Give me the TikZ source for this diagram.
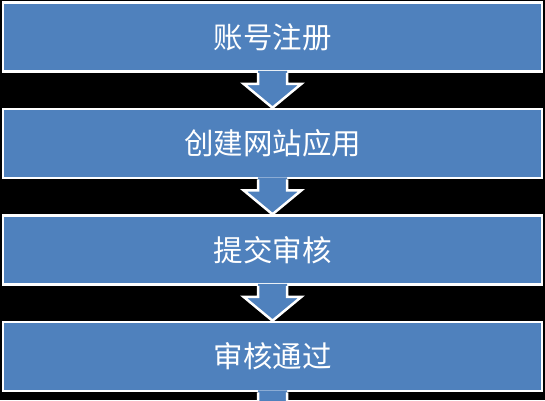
\documentclass[tikz,border=0pt]{standalone}
\usepackage{fontspec}
\newfontfamily\cjk{Noto Sans CJK SC}
\usetikzlibrary{positioning}
\definecolor{boxblue}{HTML}{4F81BD}

\begin{document}
\begin{tikzpicture}[
    x=1pt, y=1pt,
    node distance=35pt,
    every node/.style={font=\cjk\fontsize{29.5}{33}\selectfont},
    stage/.style={draw=white, line width=2.5pt, fill=boxblue, text=white, minimum width=539pt, minimum height=69pt, inner sep=0pt},
    outline/.style={draw=white, line width=2.5pt, line join=miter}
]
\useasboundingbox (0,0) rectangle (545,-400);
\fill[black] (0,0) rectangle (545,-400);
\node[stage] (reg) at (272.5,-37) {账号注册};
\node[stage, below=of reg] (app) {创建网站应用};
\node[stage, below=of app] (sub) {提交审核};
\node[stage, below=of sub] (pass) {审核通过};
\coordinate[below=of pass] (tail);
% block arrows between the stages
\foreach \a/\b in {reg/app, app/sub, sub/pass, pass/tail} {
  \fill[boxblue] ([shift={(-14.5pt,2pt)}]\a.south) |- ([shift={(-29pt,-11pt)}]\a.south) -- (\b.north)
    -- ([shift={(29pt,-11pt)}]\a.south) -| ([shift={(14.5pt,2pt)}]\a.south) -- cycle;
  \draw[outline] ([shift={(-14.5pt,0pt)}]\a.south) |- ([shift={(-29pt,-11pt)}]\a.south) -- (\b.north)
    -- ([shift={(29pt,-11pt)}]\a.south) -| ([shift={(14.5pt,0pt)}]\a.south);
}
\end{tikzpicture}
\end{document}
